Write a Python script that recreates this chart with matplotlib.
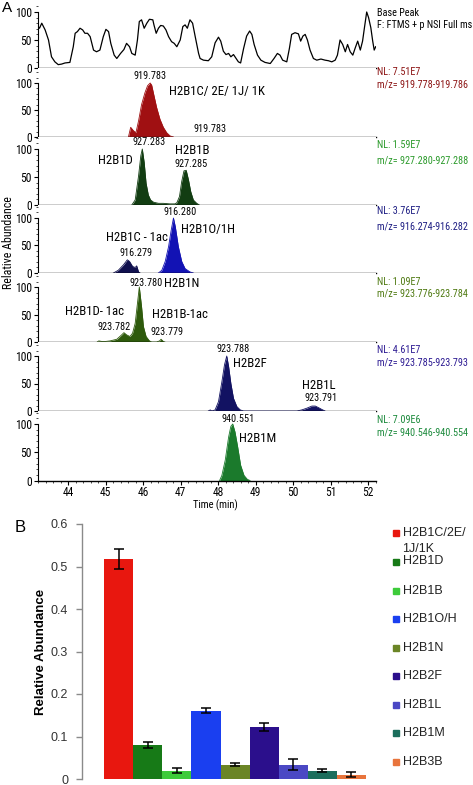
import matplotlib
matplotlib.use("Agg")
import matplotlib.pyplot as plt
from matplotlib import font_manager
from matplotlib.font_manager import FontProperties
from matplotlib.patches import Rectangle
from matplotlib.ticker import MultipleLocator
import os

# ---- find a narrow / condensed face for the chromatogram panel ----
NARROW_FILE = None
prefs = ["LiberationSansNarrow-Regular", "ArialNarrow", "RobotoCondensed-Regular",
         "DejaVuSansCondensed.ttf", "OpenSans_Condensed-Regular", "OpenSansCondensed",
         "Condensed-Regular", "Narrow-Regular", "Condensed.ttf"]
files = [f.fname for f in font_manager.fontManager.ttflist]
for p in prefs:
    hits = [fn for fn in files if p.lower() in os.path.basename(fn).lower()
            and "bold" not in os.path.basename(fn).lower()
            and "italic" not in os.path.basename(fn).lower()
            and "oblique" not in os.path.basename(fn).lower()]
    if hits:
        NARROW_FILE = sorted(hits)[0]
        break
SCALE = 1.0 if NARROW_FILE else 0.85
SANS = 'Liberation Sans'


def nfp(size):
    if NARROW_FILE:
        return FontProperties(fname=NARROW_FILE, size=size)
    return FontProperties(family=SANS, size=size * SCALE)

# ---------------- data: panel A (chromatograms) ----------------
bp_t = [43.20, 43.24, 43.30, 43.39, 43.48, 43.56, 43.65, 43.74, 43.83, 43.92, 44.05, 44.14,
        44.19, 44.25, 44.32, 44.39, 44.45, 44.52, 44.59, 44.68, 44.76, 44.85, 44.94, 45.01,
        45.08, 45.14, 45.23, 45.30, 45.40, 45.49, 45.56, 45.64, 45.70, 45.79, 45.85, 45.90,
        45.96, 46.03, 46.10, 46.17, 46.26, 46.29, 46.35, 46.41, 46.47, 46.54, 46.61, 46.68,
        46.76, 46.83, 46.90, 46.99, 47.06, 47.12, 47.18, 47.25, 47.32, 47.39, 47.48, 47.52,
        47.61, 47.74, 47.83, 47.92, 48.01, 48.07, 48.14, 48.21, 48.28, 48.34, 48.41, 48.48,
        48.54, 48.60, 48.68, 48.76, 48.84, 48.90, 48.96, 49.05, 49.14, 49.25, 49.39, 49.49,
        49.58, 49.65, 49.72, 49.83, 49.90, 49.96, 50.05, 50.14, 50.20, 50.26, 50.32, 50.38,
        50.45, 50.54, 50.63, 50.74, 50.85, 50.94, 51.03, 51.12, 51.18, 51.25, 51.32, 51.39,
        51.45, 51.52, 51.59, 51.65, 51.72, 51.79, 51.85, 51.90, 51.96, 52.01, 52.07, 52.12,
        52.16, 52.20]
bp_i = [74, 71, 80, 68, 50, 20, 11, 6, 7, 9, 10, 38,
        62, 65, 71, 68, 62, 62, 56, 32, 29, 32, 56, 69,
        65, 44, 23, 17, 26, 33, 44, 38, 26, 23, 50, 83,
        86, 71, 80, 87, 86, 77, 62, 71, 76, 75, 68, 56,
        47, 44, 38, 50, 74, 77, 71, 86, 80, 56, 26, 17,
        14, 13, 20, 45, 55, 48, 30, 24, 26, 20, 24, 17,
        11, 9, 35, 57, 66, 60, 42, 23, 14, 10, 8, 17,
        26, 23, 14, 11, 35, 60, 63, 61, 48, 57, 60, 50,
        32, 17, 14, 16, 14, 13, 11, 14, 23, 50, 42, 29,
        42, 29, 23, 35, 48, 32, 48, 72, 100, 90, 72, 48,
        32, 38]

red_t = [45.61, 45.67, 45.74, 45.81, 45.88, 45.96, 46.05, 46.12, 46.19, 46.23, 46.28, 46.36,
         46.45, 46.54, 46.63, 46.72, 46.81]
red_i = [0, 18, 12, 8, 30, 60, 82, 95, 100, 96, 80, 55, 33, 18, 8, 2, 0]

grn_t = [45.70, 45.79, 45.88, 45.94, 45.98, 46.03, 46.08, 46.14, 46.20, 46.28, 46.41, 46.54,
         46.72, 46.85, 46.90, 46.97, 47.03, 47.09, 47.15, 47.21, 47.27, 47.34, 47.43, 47.50]
grn_i = [0, 9, 52, 88, 100, 76, 39, 18, 9, 5, 3, 3, 2, 2, 4, 15, 42, 61, 62, 45, 24, 9, 3, 0]

ac_t = [45.21, 45.34, 45.48, 45.58, 45.64, 45.72, 45.79, 45.83, 45.88, 45.92]
ac_i = [0, 5, 15, 24, 21, 12, 10, 13, 2, 0]
blu_t = [46.41, 46.50, 46.59, 46.68, 46.75, 46.81, 46.86, 46.94, 47.03, 47.12, 47.25, 47.34]
blu_i = [0, 5, 21, 48, 78, 100, 84, 48, 21, 8, 2, 0]

olv_t = [44.78, 44.82, 44.90, 45.00, 45.12, 45.30, 45.43, 45.49, 45.56, 45.65, 45.72, 45.79,
         45.85, 45.90, 45.96, 46.01, 46.08, 46.17, 46.23, 46.36, 46.44, 46.48, 46.54, 46.58]
olv_i = [0, 2, 1, 1, 2, 5, 13, 17, 13, 10, 16, 34, 70, 100, 64, 28, 10, 2, 0, 0, 2, 5, 1, 0]

ind_t = [47.74, 47.79, 47.83, 47.92, 48.01, 48.10, 48.17, 48.23, 48.28, 48.34, 48.41, 48.50,
         48.59, 48.68, 50.10, 50.23, 50.36, 50.50, 50.59, 50.68, 50.76, 50.85]
ind_i = [0, 2, 0, 2, 17, 53, 84, 100, 81, 50, 23, 8, 2, 0, 0, 2, 5, 9, 9, 6, 3, 0]

m_t = [48.04, 48.10, 48.19, 48.28, 48.34, 48.39, 48.45, 48.52, 48.60, 48.69, 48.78, 48.85]
m_i = [0, 9, 36, 77, 96, 100, 86, 60, 27, 9, 2, 0]

nl_text = ["NL: 7.51E7", "NL: 1.59E7", "NL: 3.76E7", "NL: 1.09E7", "NL: 4.61E7", "NL: 7.09E6"]
mz_text = ["m/z= 919.778-919.786", "m/z= 927.280-927.288", "m/z= 916.274-916.282",
           "m/z= 923.776-923.784", "m/z= 923.785-923.793", "m/z= 940.546-940.554"]

# peak annotations: (panel, time, rel. abundance, text, kind)
annots = [
    (1, 46.19, 113, "919.783", "mz"), (1, 47.98, 84, "H2B1C/ 2E/ 1J/ 1K", "name"),
    (1, 47.79, 14, "919.783", "mz"),
    (2, 46.16, 113, "927.283", "mz"), (2, 45.25, 80, "H2B1D", "name"),
    (2, 47.31, 97, "H2B1B", "name"), (2, 47.27, 74, "927.285", "mz"),
    (3, 46.98, 111, "916.280", "mz"), (3, 47.74, 79, "H2B1O/1H", "name"),
    (3, 45.83, 64, "H2B1C - 1ac", "name"), (3, 45.81, 37, "916.279", "mz"),
    (4, 46.07, 108, "923.780", "mz"), (4, 47.04, 107, "H2B1N", "name"),
    (4, 44.72, 55, "H2B1D- 1ac", "name"), (4, 45.24, 28, "923.782", "mz"),
    (4, 46.98, 50, "H2B1B-1ac", "name"), (4, 46.63, 19, "923.779", "mz"),
    (5, 48.41, 112, "923.788", "mz"), (5, 48.85, 87, "H2B2F", "name"),
    (5, 50.69, 47, "H2B1L", "name"), (5, 50.74, 23, "923.791", "mz"),
    (6, 48.53, 109, "940.551", "mz"), (6, 49.05, 75, "H2B1M", "name"),
]
time_ticks = [44, 45, 46, 47, 48, 49, 50, 51, 52]
abund_ticks = [0, 50, 100]

# ---------------- data: panel B (bars) ----------------
variants = ["H2B1C/2E/\n1J/1K", "H2B1D", "H2B1B", "H2B1O/H", "H2B1N", "H2B2F", "H2B1L", "H2B1M", "H2B3B"]
rel_abund = [0.517, 0.080, 0.019, 0.161, 0.034, 0.122, 0.034, 0.020, 0.010]
rel_err = [0.024, 0.006, 0.006, 0.006, 0.003, 0.010, 0.012, 0.004, 0.006]
bar_ticks = [0, 0.1, 0.2, 0.3, 0.4, 0.5, 0.6]
bar_tick_labels = ["0", "0.1", "0.2", "0.3", "0.4", "0.5", "0.6"]

# ---------------- styles / layout ----------------
W, H = 473, 785
fig = plt.figure(figsize=(W / 100, H / 100), dpi=100)


def fx(x):
    return x / W


def fy(y):
    return 1 - y / H


left_px, right_px = 38, 375.7
# (bottom pixel of 0, pixel of 100, top pixel of axes)
panel_px = [(68, 12, 4), (137, 83, 68), (205, 149, 137), (273, 218, 205),
            (342, 287, 273), (411, 356, 342), (480.5, 424, 411)]
nl_y = [72, 145, 211, 282, 350, 420]
mz_y = [84, 160, 226, 294, 362, 433]
nl_colors = ["#8c1414", "#2b9a2b", "#1c1c82", "#4f7a12", "#2c1a92", "#1c8a3c"]
SIDE = 7.3

axes = []
for (y0, y100, ytop) in panel_px:
    ax = fig.add_axes([fx(left_px), fy(y0), fx(right_px - left_px), (y0 - ytop) / H])
    ax.set_xlim(43.2, 52.2)
    ax.set_ylim(0, (y0 - ytop) / (y0 - y100) * 100)
    for s in ("top", "right"):
        ax.spines[s].set_visible(False)
    ax.spines["left"].set_bounds(0, 100)
    ax.spines["left"].set_linewidth(0.8)
    ax.spines["bottom"].set_linewidth(1.0)
    ax.set_yticks(abund_ticks)
    ax.yaxis.set_minor_locator(MultipleLocator(10))
    ax.tick_params(axis="y", which="major", length=3, width=0.8, pad=1.5)
    ax.tick_params(axis="y", which="minor", length=1.5, width=0.5)
    for lab in ax.get_yticklabels():
        lab.set_fontproperties(nfp(8.3))
    ax.set_xticks(time_ticks)
    ax.tick_params(axis="x", which="both", bottom=False, labelbottom=False)
    axes.append(ax)

axes[0].plot(bp_t, bp_i, color="black", lw=0.9)


def peak(ax, t, i, col):
    ax.fill_between(t, i, 0, color=col, lw=0)
    ax.plot(t, i, color=col, lw=0.6)


peak(axes[1], red_t, red_i, "#a01012")
peak(axes[2], grn_t, grn_i, "#123d12")
peak(axes[3], ac_t, ac_i, "#10104e")
peak(axes[3], blu_t, blu_i, "#1212b4")
peak(axes[4], olv_t, olv_i, "#2e5a0c")
peak(axes[5], ind_t, ind_i, "#121262")
peak(axes[6], m_t, m_i, "#1b7a2c")

for (p, t, y, txt, kind) in annots:
    axes[p].text(t, y, txt, ha="center", va="center",
                 fontproperties=nfp(7.4 if kind == "mz" else 9.2), color="black")

last = axes[-1]
last.tick_params(axis="x", which="major", bottom=True, labelbottom=True, length=3, width=0.8,
                 pad=1.0)
last.xaxis.set_minor_locator(MultipleLocator(0.2))
last.tick_params(axis="x", which="minor", bottom=True, length=1.5, width=0.5)
for lab in last.get_xticklabels():
    lab.set_fontproperties(nfp(8.3))
fig.text(fx(215), fy(505), "Time (min)", ha="center", va="center", fontproperties=nfp(7.6))

fig.text(fx(376.5), fy(13), "Base Peak", ha="left", va="center", fontproperties=nfp(SIDE))
fig.text(fx(376.5), fy(24.5), "F: FTMS + p NSI Full ms", ha="left", va="center",
         fontproperties=nfp(SIDE))
for k in range(6):
    fig.text(fx(376.5), fy(nl_y[k]), nl_text[k], ha="left", va="center",
             fontproperties=nfp(SIDE), color=nl_colors[k])
    fig.text(fx(376.5), fy(mz_y[k]), mz_text[k], ha="left", va="center",
             fontproperties=nfp(SIDE), color=nl_colors[k])

fig.text(fx(8), fy(243), "Relative Abundance", rotation=90, ha="center", va="center",
         fontproperties=nfp(8.6))
fig.text(fx(7), fy(8), "A", ha="center", va="center", family=SANS, fontsize=11)

# ---------------- panel B ----------------
bar_colors = ["#e8170f", "#177a17", "#3dcb3a", "#1a3ff0", "#6b8526", "#2b0f8c", "#4b48c4",
              "#1b6e5c", "#e8743c"]
axb = fig.add_axes([fx(82), fy(779), fx(366 - 82), (779 - 524) / H])
xs = list(range(len(variants)))
axb.bar(xs, rel_abund, width=1.0, color=bar_colors, yerr=rel_err, capsize=3.5,
        error_kw=dict(elinewidth=1.1, capthick=1.1, ecolor="black"))
axb.set_xlim(-1.26, 8.5)
axb.set_ylim(0, 0.6)
for s in ("top", "right", "bottom"):
    axb.spines[s].set_visible(False)
axb.spines["left"].set_color("#8a8a8a")
axb.spines["left"].set_linewidth(1.0)
axb.set_xticks([])
axb.set_yticks(bar_ticks)
axb.set_yticklabels(bar_tick_labels, family=SANS, fontsize=9, color="#333333")
axb.tick_params(axis="y", length=4, width=1.0, color="#8a8a8a", pad=6)
fig.text(fx(41), fy(652), "Relative Abundance", rotation=90, ha="center", va="center",
         family=SANS, fontsize=9.5, fontweight="bold")
fig.text(fx(20), fy(527), "B", ha="center", va="center", family=SANS, fontsize=12)

# legend (manual)
leg_y = [533, 561.5, 590.5, 619.3, 647.7, 676, 704.7, 733.3, 761.7]
for k, lab in enumerate(variants):
    fig.patches.append(Rectangle((fx(393), fy(leg_y[k] + 3)), fx(6), 6 / H,
                                 transform=fig.transFigure, color=bar_colors[k]))
    lines = lab.split("\n")
    for j, ln in enumerate(lines):
        fig.text(fx(402.5), fy(leg_y[k] + 16 * j), ln, ha="left", va="center",
                 family=SANS, fontsize=9, color="#222222")

fig.savefig("out.png", dpi=100)
